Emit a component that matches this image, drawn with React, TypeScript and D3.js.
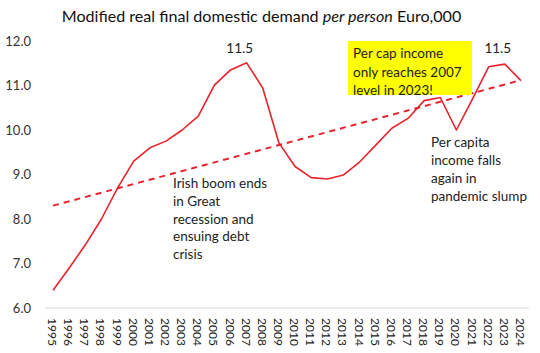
import React from "react";
import * as d3 from "d3";

const years = d3.range(1995, 2025).map(String);
const values = [6.4, 6.9, 7.42, 8.0, 8.7, 9.3, 9.6, 9.75, 10.0, 10.31, 11.01, 11.35, 11.51, 10.94, 9.71, 9.18, 8.93, 8.9, 8.99, 9.28, 9.66, 10.04, 10.26, 10.66, 10.73, 10.0, 10.7, 11.42, 11.48, 11.11];
const trendEnds = [8.3, 11.12];
const yTicks = [6, 7, 8, 9, 10, 11, 12];
const title = ["Modified real final domestic demand ", "per person", " Euro,000"];
const boxText = ["Per cap income", "only reaches 2007", "level in 2023!"];
const leftNote = ["Irish boom ends", "in Great", "recession and", "ensuing debt", "crisis"];
const rightNote = ["Per capita", "income falls", "again in", "pandemic slump"];
const peakLabels = [{ year: "2007", text: "11.5" }, { year: "2023", text: "11.5" }];

const W = 540, H = 353;
const FONT = "Lato, 'Open Sans', sans-serif";
const RED = "#e8232b";

export default function App() {
  const x = d3.scaleBand<string>().domain(years).range([45, 529]);
  const cx = (yr: string) => (x(yr) as number) + x.bandwidth() / 2;
  const y = d3.scaleLinear().domain([6, 12]).range([308, 41]);
  const line = d3
    .line<number>()
    .x((_, i) => cx(years[i]))
    .y((d) => y(d))
    .curve(d3.curveLinear);
  const trend = d3.line<number>()
    .x((_, i) => cx(i === 0 ? years[0] : years[years.length - 1]))
    .y((d) => y(d));

  return (
    <svg width={W} height={H} style={{ position: "absolute", left: 0, top: 0, background: "#fff" }} fontFamily={FONT}>
      <rect width={W} height={H} fill="#fff" />
      <text x={261.5} y={22} textAnchor="middle" fontSize={16.1} fill="#111">
        <tspan>{title[0]}</tspan>
        <tspan fontStyle="italic">{title[1]}</tspan>
        <tspan>{title[2]}</tspan>
      </text>
      {yTicks.map((t) => (
        <text key={t} x={31} y={y(t) + 4.5} textAnchor="end" fontSize={13} fill="#333">
          {t.toFixed(1)}
        </text>
      ))}
      <line x1={45} x2={529} y1={308} y2={308} stroke="#d9d9d9" strokeWidth={1} />
      {years.map((yr) => (
        <text key={yr} transform={`translate(${cx(yr) - 5},318) rotate(90)`} fontSize={12} fill="#222">
          {yr}
        </text>
      ))}
      <path d={trend(trendEnds) || ""} fill="none" stroke={RED} strokeWidth={2} strokeDasharray="6,5" />
      <path d={line(values) || ""} fill="none" stroke={RED} strokeWidth={1.6} strokeLinejoin="round" />
      {peakLabels.map((p) => (
        <text key={p.year} x={cx(p.year) - 7} y={53} textAnchor="middle" fontSize={13.5} fill="#222">
          {p.text}
        </text>
      ))}
      <rect x={348} y={41} width={124} height={54} fill="#ffff00" />
      {boxText.map((t, i) => (
        <text key={i} x={353} y={58 + i * 18.5} fontSize={13.5} fill="#222">{t}</text>
      ))}
      {leftNote.map((t, i) => (
        <text key={i} x={173} y={188 + i * 17.8} fontSize={13.5} fill="#222">{t}</text>
      ))}
      {rightNote.map((t, i) => (
        <text key={i} x={431} y={147 + i * 18} fontSize={13.5} fill="#222">{t}</text>
      ))}
    </svg>
  );
}
